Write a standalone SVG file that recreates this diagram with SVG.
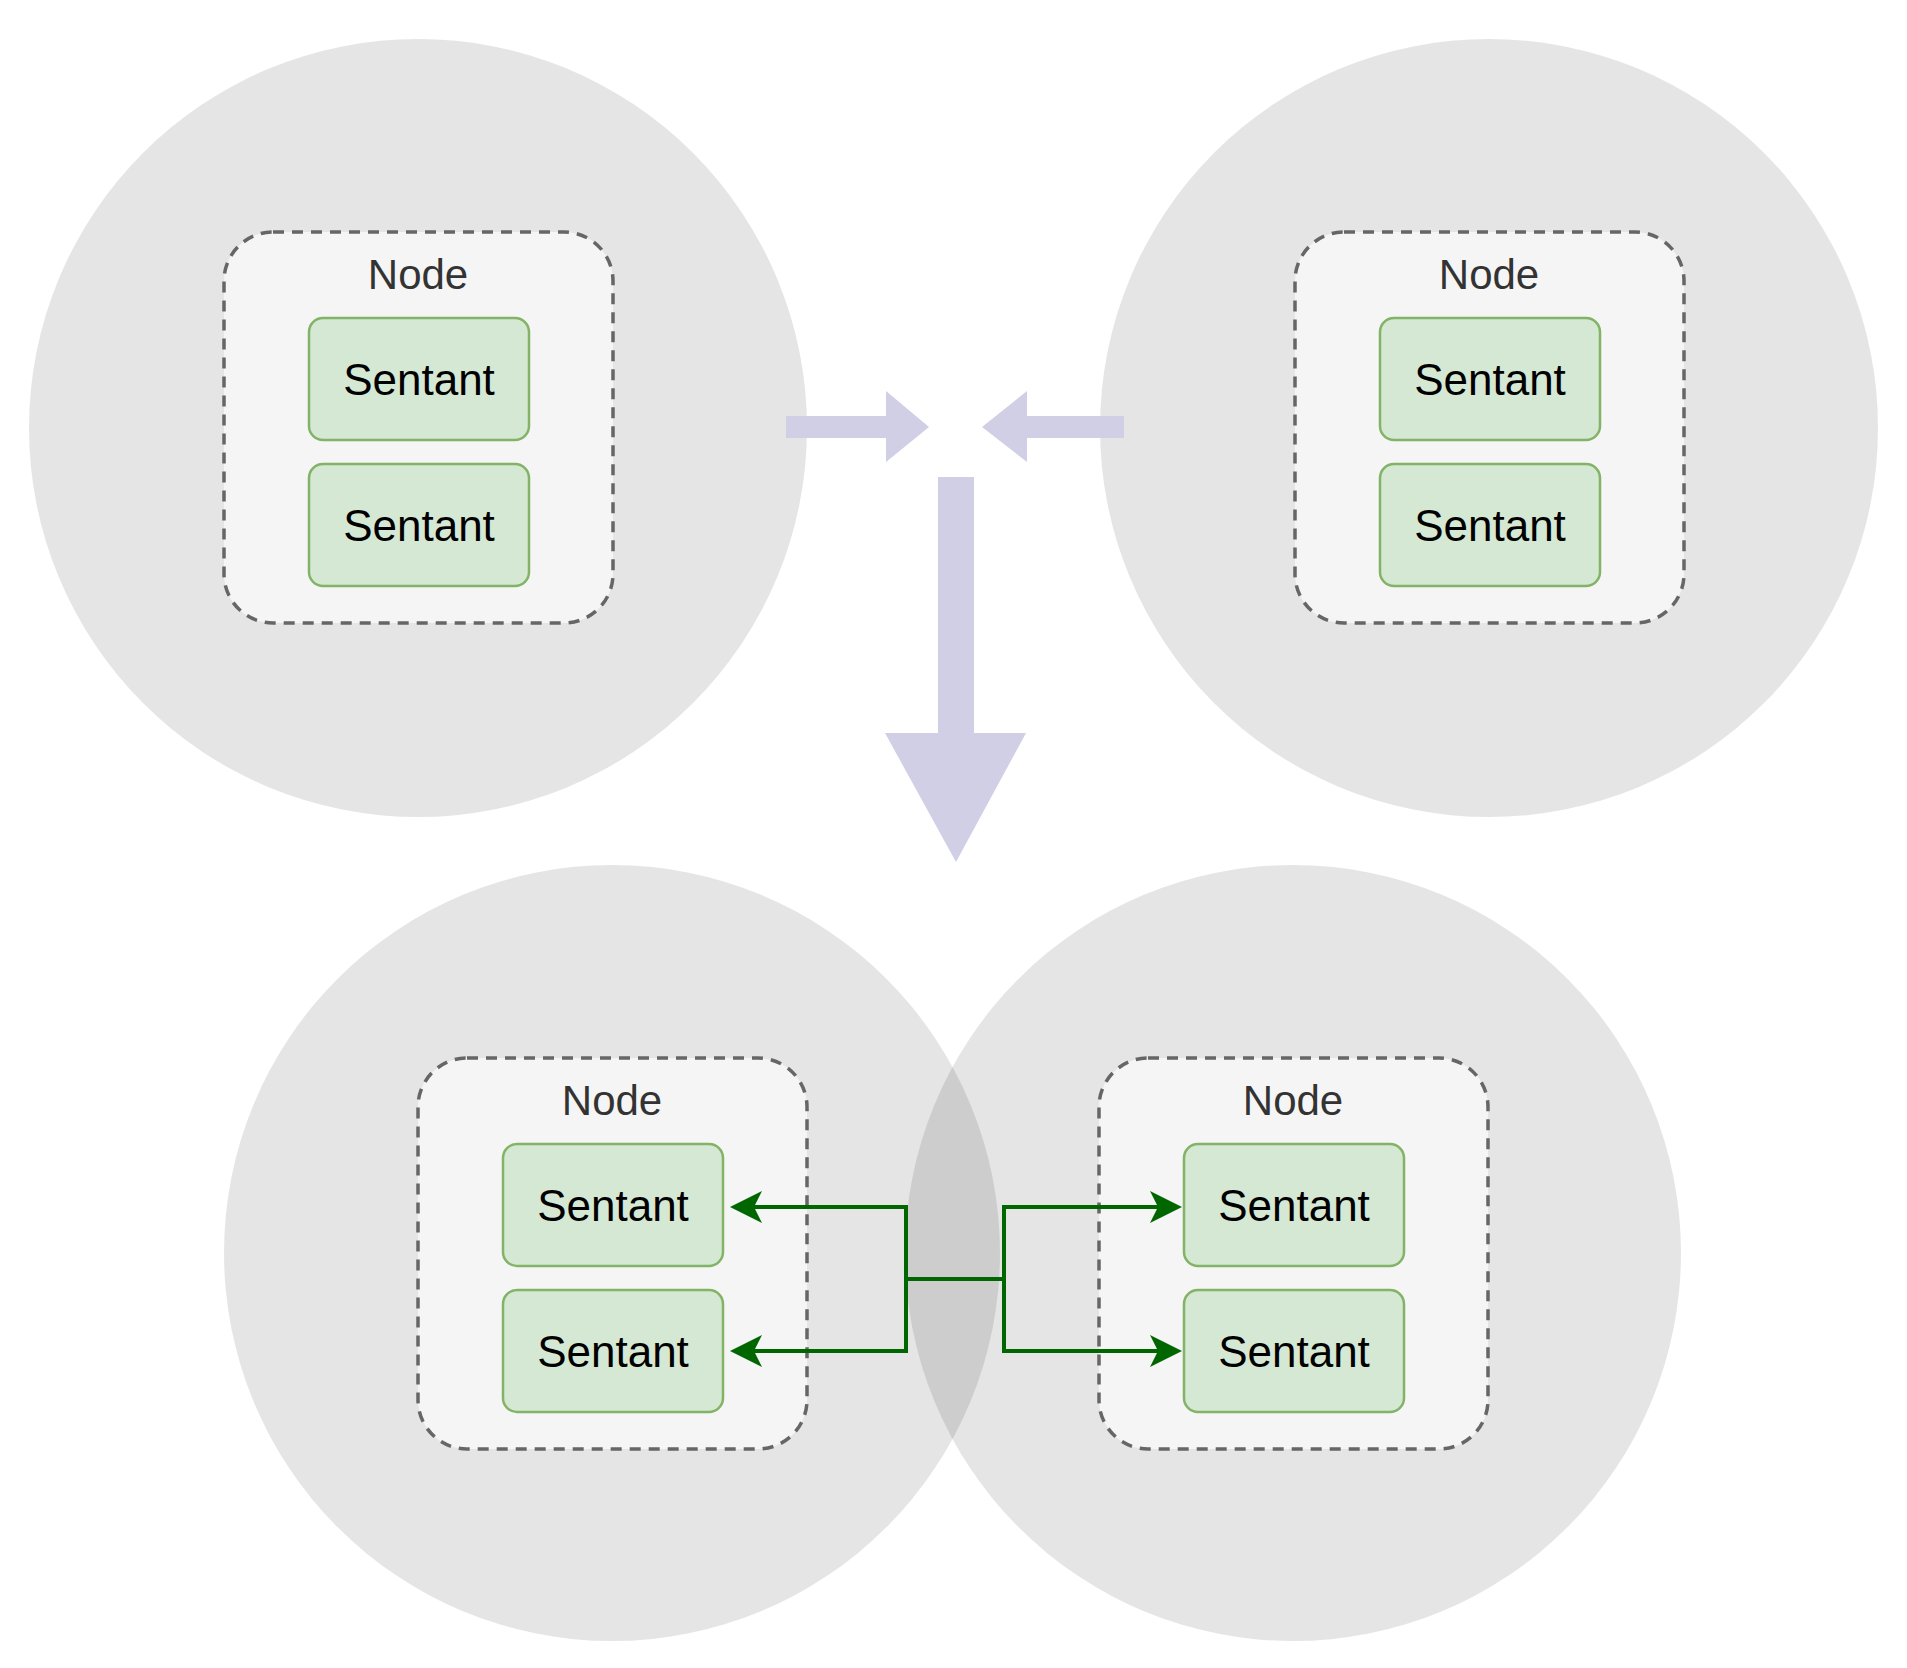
<svg xmlns="http://www.w3.org/2000/svg" width="1907" height="1668" viewBox="0 0 1907 1668">
<style>
.c{fill:#000;fill-opacity:0.1}
.n{fill:#f5f5f5;stroke:#666;stroke-width:3.5;stroke-dasharray:11 8}
.s{fill:#d5e8d4;stroke:#82b366;stroke-width:2.5}
.t{font-family:"Liberation Sans",Arial,sans-serif;text-anchor:middle}
.nt{font-size:42px;fill:#333}
.st{font-size:44px;fill:#000}
.big{fill:#d0cfe6}
.g{fill:none;stroke:#006600;stroke-width:4}
</style>
<defs>
<marker id="ah" markerWidth="8" markerHeight="8" refX="7" refY="4" orient="auto" markerUnits="strokeWidth">
<path d="M0,0 L8,4 L0,8 L2,4 Z" fill="#006600"/>
</marker>
<g id="nodeTpl">
<rect class="n" x="224" y="232" width="389" height="391" rx="49"/>
<text class="t nt" x="418" y="289">Node</text>
<rect class="s" x="309" y="318" width="220" height="122" rx="14"/>
<text class="t st" x="419" y="395">Sentant</text>
<rect class="s" x="309" y="464" width="220" height="122" rx="14"/>
<text class="t st" x="419" y="541">Sentant</text>
</g>
</defs>
<rect width="1907" height="1668" fill="#fff"/>
<g id="circles">
<circle class="c" cx="418" cy="428" r="389"/>
<circle class="c" cx="1489" cy="428" r="389"/>
<circle class="c" cx="612" cy="1253" r="388"/>
<circle class="c" cx="1293" cy="1253" r="388"/>
</g>
<g id="node-tl"><use href="#nodeTpl"/></g>
<g id="node-tr"><use href="#nodeTpl" transform="translate(1071,0)"/></g>
<g id="node-bl"><use href="#nodeTpl" transform="translate(194,826)"/></g>
<g id="node-br"><use href="#nodeTpl" transform="translate(875,826)"/></g>
<g id="connectors">
<polygon class="big" points="786,416 886,416 886,391 929,427 886,462 886,438 786,438"/>
<polygon class="big" points="1124,416 1027,416 1027,391 982,427 1027,462 1027,438 1124,438"/>
<polygon class="big" points="938,477 974,477 974,733 1026,733 956,862 885,733 938,733"/>
<path class="g" d="M906,1207 H734" marker-end="url(#ah)"/>
<path class="g" d="M906,1351 H734" marker-end="url(#ah)"/>
<path class="g" d="M906,1205 V1353 M906,1279 H1004 M1004,1205 V1353"/>
<path class="g" d="M1004,1207 H1178" marker-end="url(#ah)"/>
<path class="g" d="M1004,1351 H1178" marker-end="url(#ah)"/>
</g>
</svg>
